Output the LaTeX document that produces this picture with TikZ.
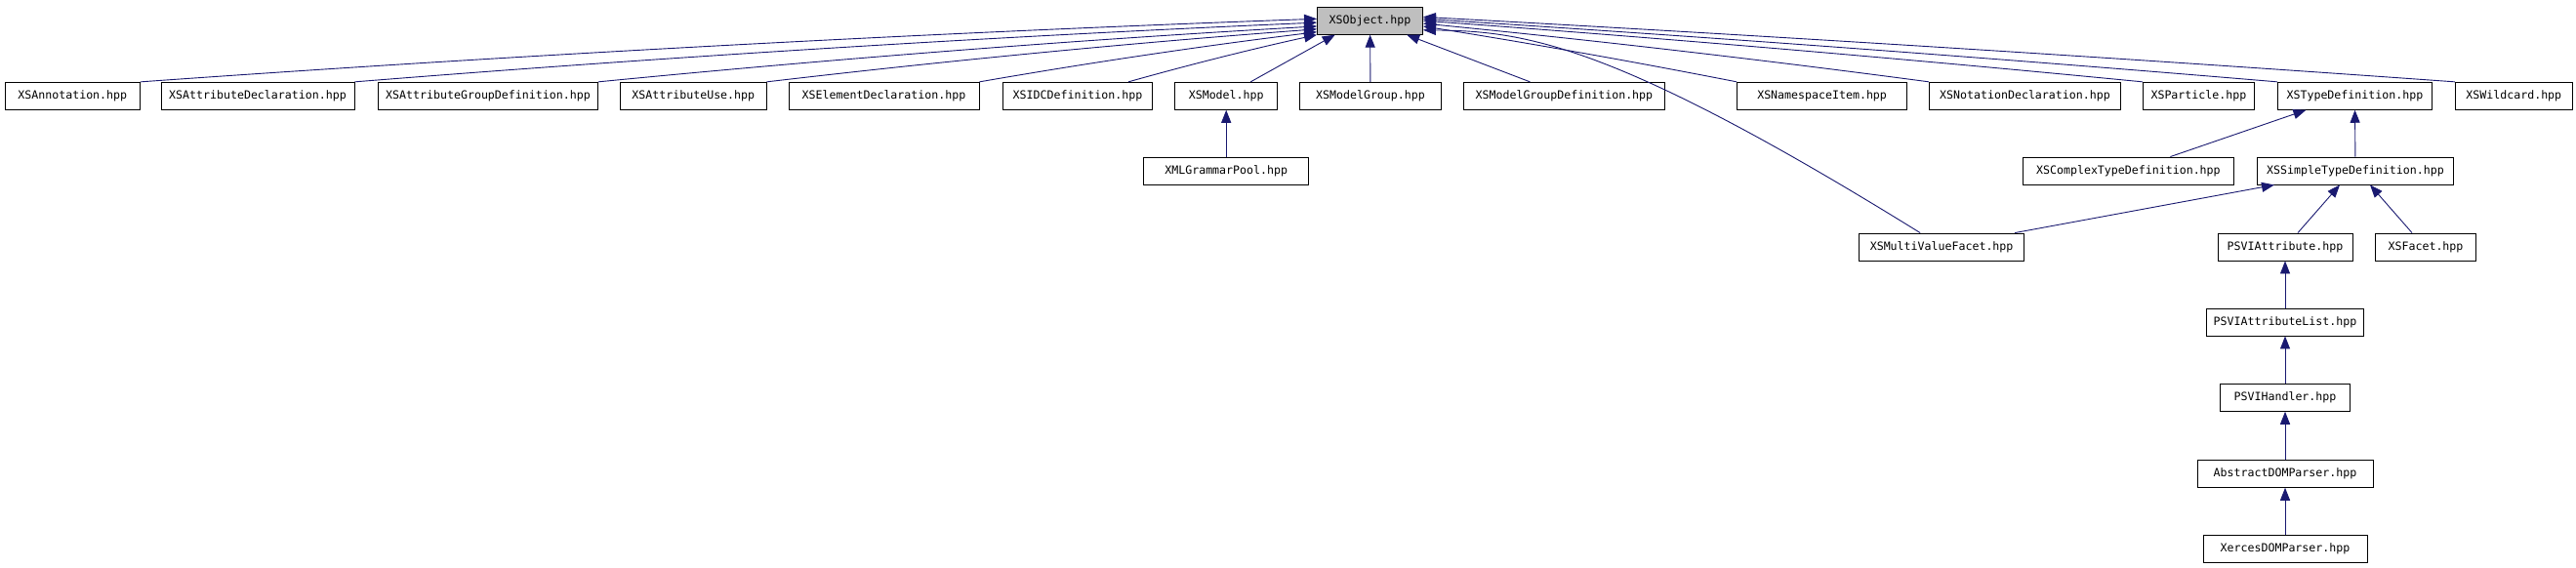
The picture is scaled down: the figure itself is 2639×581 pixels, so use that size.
\documentclass[tikz,border=0pt]{standalone}
\usepackage{fontspec}
\usepackage{tikz}
\usetikzlibrary{arrows.meta,calc}
\newfontfamily\dotfont{DejaVu Sans Mono}
\definecolor{edgeblue}{HTML}{191970}
\definecolor{rootgray}{HTML}{BFBFBF}
\tikzset{
  box/.style={draw=black,line width=0.9pt,fill=white,font=\dotfont\fontsize{11.6}{12}\selectfont,
    minimum height=28pt,inner sep=0pt},
  rootbox/.style={box,fill=rootgray},
  arr/.style={-{Triangle[length=13pt,width=10pt]},line width=0.9pt,draw=edgeblue},
}
\begin{document}
\begin{tikzpicture}[x=1pt,y=-1pt]
  \fill[white] (0,0) rectangle (2639,581);
  \useasboundingbox (0,0) rectangle (2639,581);
  \node[rootbox,minimum width=108pt] (xsobject) at (1403.5,21.2) {XSObject.hpp};
  \foreach \n/\x/\y/\w/\t in {annot/74.3/98.3/138.5/XSAnnotation.hpp,attrdecl/264/98.3/198/XSAttributeDeclaration.hpp,
    attrgroup/500/98.3/225/XSAttributeGroupDefinition.hpp,attruse/710.3/98.3/149.5/XSAttributeUse.hpp,
    elemdecl/905.5/98.3/195/XSElementDeclaration.hpp,idcdef/1104/98.3/153.3/XSIDCDefinition.hpp,
    model/1256.2/98.3/105/XSModel.hpp,modelgroup/1404/98.3/144.7/XSModelGroup.hpp,
    modelgroupdef/1602.4/98.3/206/XSModelGroupDefinition.hpp,nsitem/1866.6/98.3/174/XSNamespaceItem.hpp,
    notation/2074.5/98.3/195.8/XSNotationDeclaration.hpp,particle/2252.4/98.3/114/XSParticle.hpp,
    typedef/2412.4/98.3/158/XSTypeDefinition.hpp,wildcard/2575.3/98.3/119.8/XSWildcard.hpp,
    grammarpool/1256.2/175/168.8/XMLGrammarPool.hpp,complextype/2180.4/175/216.2/XSComplexTypeDefinition.hpp,
    simpletype/2413/175/200.7/XSSimpleTypeDefinition.hpp,multivalue/1989.1/253/169.2/XSMultiValueFacet.hpp,
    psviattr/2341/253/138/PSVIAttribute.hpp,facet/2485/253/103/XSFacet.hpp,
    psviattrlist/2341/330/161/PSVIAttributeList.hpp,psvihandler/2341/407.3/132.4/PSVIHandler.hpp,
    absdom/2341/485.3/180/AbstractDOMParser.hpp,xercesdom/2341/562.3/168/XercesDOMParser.hpp}{
    \node[box,minimum width=\w pt] (\n) at (\x,\y) {\t};
  }
  \foreach \c/\a/\d in {annot/178/-7,attrdecl/182/-6,attrgroup/186/-5,attruse/189/-4,elemdecl/192/-3}{
    \draw[arr] (\c.north east) .. controls ($(\c.north east)!0.33!(xsobject.\a)+(0,\d)$)
      and ($(\c.north east)!0.67!(xsobject.\a)+(0,\d)$) .. (xsobject.\a);
  }
  \draw[arr] ([xshift=52pt]idcdef.north) .. controls ($([xshift=52pt]idcdef.north)!0.33!(xsobject.south west)+(0,-2)$)
    and ($([xshift=52pt]idcdef.north)!0.67!(xsobject.south west)+(0,-2)$) .. (xsobject.south west);
  \draw[arr] ([xshift=25pt]model.north) -- (xsobject.202);
  \draw[arr] (modelgroup) -- (xsobject);
  \draw[arr] ([xshift=-35pt]modelgroupdef.north) -- (xsobject.339);
  \draw[arr] ([xshift=-22pt]multivalue.north) .. controls (1650,42) and (1560,32) .. (xsobject.350);
  \foreach \c/\a/\d in {nsitem/354/-2,notation/357/-3,particle/0/-3,typedef/2/-3,wildcard/4/-3}{
    \draw[arr] (\c.north west) .. controls ($(\c.north west)!0.33!(xsobject.\a)+(0,\d)$)
      and ($(\c.north west)!0.67!(xsobject.\a)+(0,\d)$) .. (xsobject.\a);
  }
  \draw[arr] (grammarpool) -- (model);
  \draw[arr] ([xshift=43pt]complextype.north) -- ([xshift=-50pt]typedef.south);
  \draw[arr] (simpletype) -- (typedef);
  \draw[arr] ([xshift=75pt]multivalue.north) -- ([xshift=-83pt]simpletype.south);
  \draw[arr] ([xshift=13pt]psviattr.north) -- ([xshift=-16pt]simpletype.south);
  \draw[arr] ([xshift=-14pt]facet.north) -- ([xshift=15pt]simpletype.south);
  \draw[arr] (psviattrlist) -- (psviattr);
  \draw[arr] (psvihandler) -- (psviattrlist);
  \draw[arr] (absdom) -- (psvihandler);
  \draw[arr] (xercesdom) -- (absdom);
\end{tikzpicture}
\end{document}
